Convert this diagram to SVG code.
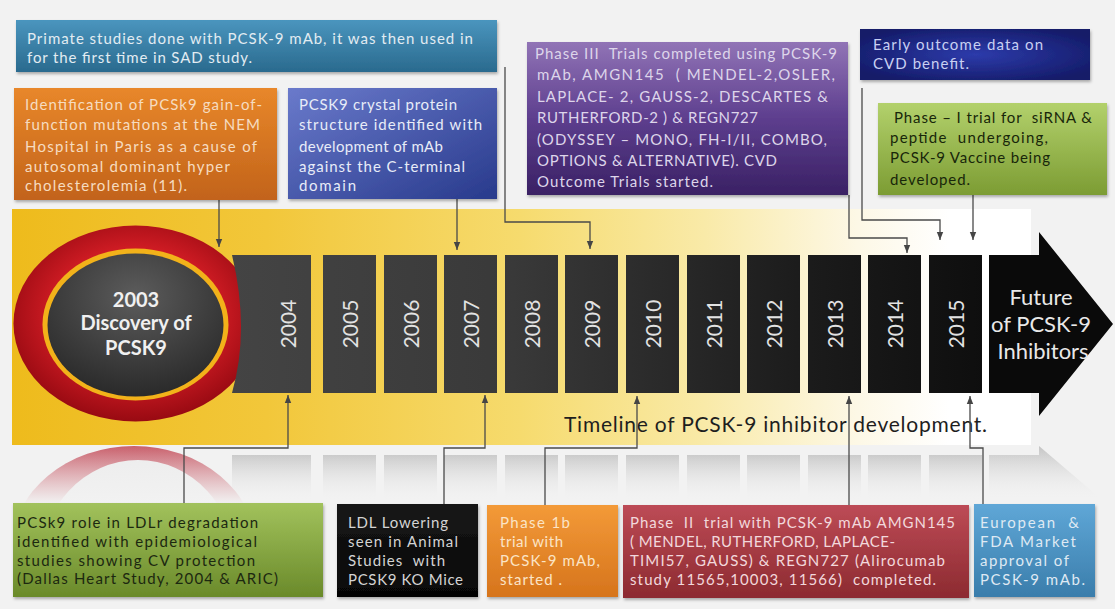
<svg xmlns="http://www.w3.org/2000/svg" width="1115" height="609" viewBox="0 0 1115 609">
<defs>
  <linearGradient id="band" gradientUnits="userSpaceOnUse" x1="12" y1="0" x2="1031" y2="0">
    <stop offset="0" stop-color="#eebb1c"/>
    <stop offset="0.25" stop-color="#f2c73a"/>
    <stop offset="0.5" stop-color="#f6db6e"/>
    <stop offset="0.68" stop-color="#f9eaa8"/>
    <stop offset="0.83" stop-color="#fdf8e6"/>
    <stop offset="0.92" stop-color="#ffffff"/>
  </linearGradient>
  <linearGradient id="yrs" gradientUnits="userSpaceOnUse" x1="230" y1="0" x2="1040" y2="0">
    <stop offset="0" stop-color="#444444"/>
    <stop offset="0.35" stop-color="#393939"/>
    <stop offset="0.7" stop-color="#1c1c1c"/>
    <stop offset="1" stop-color="#0a0a0a"/>
  </linearGradient>
  <radialGradient id="ring" cx="50%" cy="45%" r="55%">
    <stop offset="0.6" stop-color="#d01c24"/>
    <stop offset="1" stop-color="#980a12"/>
  </radialGradient>
  <radialGradient id="core" cx="50%" cy="30%" r="70%">
    <stop offset="0" stop-color="#5c5c5c"/>
    <stop offset="1" stop-color="#2a2a2a"/>
  </radialGradient>
  <linearGradient id="refl" x1="0" y1="0" x2="0" y2="1">
    <stop offset="0" stop-color="#c4c4c4"/>
    <stop offset="1" stop-color="#f2f2f2"/>
  </linearGradient>
  <linearGradient id="fade" x1="0" y1="0" x2="0" y2="1">
    <stop offset="0" stop-color="#f2f2f2" stop-opacity="0"/>
    <stop offset="1" stop-color="#f2f2f2" stop-opacity="1"/>
  </linearGradient>
  <linearGradient id="gPrim" x1="0" y1="0" x2="0" y2="1"><stop offset="0" stop-color="#4a95be"/><stop offset="1" stop-color="#2a6a8e"/></linearGradient>
  <linearGradient id="gOr1" x1="0" y1="0" x2="0" y2="1"><stop offset="0" stop-color="#e8872a"/><stop offset="1" stop-color="#c2631a"/></linearGradient>
  <linearGradient id="gBl1" x1="0" y1="0" x2="1" y2="1"><stop offset="0" stop-color="#6a7acb"/><stop offset="1" stop-color="#283a8c"/></linearGradient>
  <linearGradient id="gPur" x1="0" y1="0" x2="0" y2="1"><stop offset="0" stop-color="#9174b6"/><stop offset="0.5" stop-color="#5d3e8e"/><stop offset="1" stop-color="#3a2164"/></linearGradient>
  <radialGradient id="gDb" cx="50%" cy="50%" r="60%"><stop offset="0" stop-color="#2d3bab"/><stop offset="1" stop-color="#141b68"/></radialGradient>
  <linearGradient id="gGr1" x1="0" y1="0" x2="0" y2="1"><stop offset="0" stop-color="#b3d16c"/><stop offset="1" stop-color="#7c9c33"/></linearGradient>
  <linearGradient id="gGr2" x1="0" y1="0" x2="0" y2="1"><stop offset="0" stop-color="#a2c25c"/><stop offset="1" stop-color="#6a8a2a"/></linearGradient>
  <linearGradient id="gBk" x1="0" y1="0" x2="0" y2="1"><stop offset="0" stop-color="#181818"/><stop offset="1" stop-color="#050505"/></linearGradient>
  <linearGradient id="gOr2" x1="0" y1="0" x2="0" y2="1"><stop offset="0" stop-color="#f39a38"/><stop offset="1" stop-color="#d6741c"/></linearGradient>
  <linearGradient id="gRd" x1="0" y1="0" x2="0" y2="1"><stop offset="0" stop-color="#bd4b56"/><stop offset="1" stop-color="#8c2a30"/></linearGradient>
  <linearGradient id="gBl2" x1="0" y1="0" x2="0" y2="1"><stop offset="0" stop-color="#5fa7d7"/><stop offset="1" stop-color="#3a7dab"/></linearGradient>
  <linearGradient id="pinkRefl" x1="0" y1="0" x2="0" y2="1"><stop offset="0" stop-color="#c9606c"/><stop offset="1" stop-color="#f0e0e2"/></linearGradient>
  <clipPath id="reflClip"><rect x="0" y="446" width="1115" height="58"/></clipPath>
  <marker id="ah" viewBox="0 0 10 10" refX="10" refY="5" markerWidth="8" markerHeight="8" markerUnits="userSpaceOnUse" orient="auto">
    <path d="M0,1 L10,5 L0,9 z" fill="#454545"/>
  </marker>
  <filter id="sh" x="-5%" y="-5%" width="110%" height="115%">
    <feDropShadow dx="1" dy="2" stdDeviation="1.5" flood-color="#000" flood-opacity="0.3"/>
  </filter>
</defs>
<style>
  .t{font-family:Lato,"Liberation Sans",sans-serif;font-size:15px}
  .yr{font-family:Lato,"Liberation Sans",sans-serif;font-size:21px;fill:#e2e2e2;text-anchor:middle;dominant-baseline:central}
  .cn{fill:none;stroke:#4a4a4a;stroke-width:1.3;marker-end:url(#ah)}
  .yb{fill:url(#yrs)}
  .rb{fill:url(#refl)}
</style>

<rect x="0" y="0" width="1115" height="609" fill="#f2f2f2"/>

<g id="timeline-band">
  <rect x="12" y="209" width="1019" height="236" fill="url(#band)"/>
</g>

<g id="reflection" clip-path="url(#reflClip)">
  <rect class="rb" x="232" y="455" width="79" height="45"/>
  <rect class="rb" x="323" y="455" width="53" height="45"/>
  <rect class="rb" x="384" y="455" width="53" height="45"/>
  <rect class="rb" x="444" y="455" width="53" height="45"/>
  <rect class="rb" x="505" y="455" width="53" height="45"/>
  <rect class="rb" x="565" y="455" width="53" height="45"/>
  <rect class="rb" x="626" y="455" width="53" height="45"/>
  <rect class="rb" x="687" y="455" width="53" height="45"/>
  <rect class="rb" x="747" y="455" width="53" height="45"/>
  <rect class="rb" x="808" y="455" width="53" height="45"/>
  <rect class="rb" x="868" y="455" width="53" height="45"/>
  <rect class="rb" x="929" y="455" width="53" height="45"/>
  <polygon class="rb" points="989,455 1039,455 1039,446 1100,498 989,498"/>
  <ellipse cx="134" cy="548" rx="122" ry="102" fill="url(#pinkRefl)"/>
  <ellipse cx="138" cy="566" rx="98" ry="106" fill="#ececec"/>
  <rect x="0" y="446" width="1115" height="58" fill="url(#fade)"/>
</g>

<g id="node-2003">
  <ellipse cx="135.5" cy="323.5" rx="122" ry="98" fill="url(#ring)"/>
  <ellipse cx="135.5" cy="324.5" rx="93" ry="76" fill="#f2b21a"/>
  <ellipse cx="135.5" cy="325" rx="88" ry="71.5" fill="url(#core)"/>
  <g font-family="Lato,'Liberation Sans',sans-serif" font-size="20" font-weight="bold" fill="#f0f0f0" text-anchor="middle">
    <text x="136" y="307">2003</text>
    <text x="136" y="330">Discovery of</text>
    <text x="136" y="355">PCSK9</text>
  </g>
</g>

<g id="years">
  <g id="y2004"><rect class="yb" x="258" y="255" width="53" height="138"/><path class="yb" d="M232,255 H260 V393 H232 Q250,330 232,255 Z"/><text class="yr" transform="translate(287,324) rotate(-90)">2004</text></g>
  <g id="y2005"><rect class="yb" x="323" y="255" width="53" height="138"/><text class="yr" transform="translate(349.5,324) rotate(-90)">2005</text></g>
  <g id="y2006"><rect class="yb" x="384" y="255" width="53" height="138"/><text class="yr" transform="translate(410.5,324) rotate(-90)">2006</text></g>
  <g id="y2007"><rect class="yb" x="444" y="255" width="53" height="138"/><text class="yr" transform="translate(470.5,324) rotate(-90)">2007</text></g>
  <g id="y2008"><rect class="yb" x="505" y="255" width="53" height="138"/><text class="yr" transform="translate(531.5,324) rotate(-90)">2008</text></g>
  <g id="y2009"><rect class="yb" x="565" y="255" width="53" height="138"/><text class="yr" transform="translate(591.5,324) rotate(-90)">2009</text></g>
  <g id="y2010"><rect class="yb" x="626" y="255" width="53" height="138"/><text class="yr" transform="translate(652.5,324) rotate(-90)">2010</text></g>
  <g id="y2011"><rect class="yb" x="687" y="255" width="53" height="138"/><text class="yr" transform="translate(713.5,324) rotate(-90)">2011</text></g>
  <g id="y2012"><rect class="yb" x="747" y="255" width="53" height="138"/><text class="yr" transform="translate(773.5,324) rotate(-90)">2012</text></g>
  <g id="y2013"><rect class="yb" x="808" y="255" width="53" height="138"/><text class="yr" transform="translate(834.5,324) rotate(-90)">2013</text></g>
  <g id="y2014"><rect class="yb" x="868" y="255" width="53" height="138"/><text class="yr" transform="translate(894.5,324) rotate(-90)">2014</text></g>
  <g id="y2015"><rect class="yb" x="929" y="255" width="53" height="138"/><text class="yr" transform="translate(955.5,324) rotate(-90)">2015</text></g>
</g>

<g id="node-future">
  <polygon points="989,255 1039,255 1039,232 1113,324 1039,416 1039,393 989,393" fill="#0a0a0a"/>
  <g font-family="Lato,'Liberation Sans',sans-serif" font-size="22" fill="#e8e8e8" text-anchor="middle">
    <text x="1041" y="305">Future</text>
    <text x="1041" y="332">of PCSK-9</text>
    <text x="1043" y="359">Inhibitors</text>
  </g>
</g>

<text id="caption" x="564" y="432" font-family="Lato,'Liberation Sans',sans-serif" font-size="21" fill="#1e1e1e" textLength="423">Timeline of PCSK-9 inhibitor development.</text>

<g id="connectors">
  <path class="cn" d="M219,200 V247"/>
  <path class="cn" d="M457,199 V250"/>
  <path class="cn" d="M505,67 V222 H590 V249"/>
  <path class="cn" d="M849,195 V238 H907 V253"/>
  <path class="cn" d="M862,88 V220 H940 V240"/>
  <path class="cn" d="M973,195 V240"/>
  <path class="cn" d="M184,503 V448 H288 V395"/>
  <path class="cn" d="M444,504 V448 H485 V395"/>
  <path class="cn" d="M545,505 V448 H637 V396"/>
  <path class="cn" d="M849,505 V396"/>
  <path class="cn" d="M983,504 V448 H970 V396"/>
</g>

<g id="n-primate">
  <rect x="16" y="20" width="481" height="52" fill="url(#gPrim)" filter="url(#sh)"/>
  <g class="t" fill="#e2ecf2">
    <text x="27" y="44" textLength="446">Primate studies done with PCSK-9 mAb, it was then used in</text>
    <text x="27" y="63" textLength="225">for the first time in SAD study.</text>
  </g>
</g>

<g id="n-gof">
  <rect x="14" y="88" width="263" height="112" fill="url(#gOr1)" filter="url(#sh)"/>
  <g class="t" fill="#f6dcc0">
    <text x="25" y="110" textLength="237">Identification of PCSk9 gain-of-</text>
    <text x="25" y="130" textLength="235">function mutations at the NEM</text>
    <text x="25" y="152" textLength="232">Hospital in Paris as a cause of</text>
    <text x="25" y="172" textLength="205">autosomal dominant hyper</text>
    <text x="25" y="191" textLength="162">cholesterolemia (11).</text>
  </g>
</g>

<g id="n-crystal">
  <rect x="288" y="88" width="209" height="111" fill="url(#gBl1)" filter="url(#sh)"/>
  <g class="t" fill="#e8ecf8">
    <text x="299" y="110" textLength="158">PCSK9 crystal protein</text>
    <text x="299" y="130" textLength="183">structure identified with</text>
    <text x="299" y="152" textLength="144">development of mAb</text>
    <text x="299" y="172" textLength="166">against the C-terminal</text>
    <text x="299" y="191" textLength="57">domain</text>
  </g>
</g>

<g id="n-phase3">
  <rect x="527" y="42" width="321" height="153" fill="url(#gPur)" filter="url(#sh)"/>
  <g class="t" fill="#ddd5ea">
    <text x="535" y="59" textLength="302" xml:space="preserve">Phase III  Trials completed using PCSK-9</text>
    <text x="537" y="80" textLength="298" xml:space="preserve">mAb, AMGN145  ( MENDEL-2,OSLER,</text>
    <text x="537" y="102" textLength="291">LAPLACE- 2, GAUSS-2, DESCARTES &amp;</text>
    <text x="537" y="123" textLength="221">RUTHERFORD-2 ) &amp; REGN727</text>
    <text x="537" y="145" textLength="290">(ODYSSEY – MONO, FH-I/II, COMBO,</text>
    <text x="537" y="166" textLength="240">OPTIONS &amp; ALTERNATIVE). CVD</text>
    <text x="537" y="187" textLength="176">Outcome Trials started.</text>
  </g>
</g>

<g id="n-early">
  <rect x="860" y="29" width="230" height="51" fill="url(#gDb)" filter="url(#sh)"/>
  <g class="t" fill="#c9d0f2">
    <text x="873" y="50" textLength="170">Early outcome data on</text>
    <text x="873" y="69" textLength="96">CVD benefit.</text>
  </g>
</g>

<g id="n-sirna">
  <rect x="878" y="103" width="229" height="92" fill="url(#gGr1)" filter="url(#sh)"/>
  <g class="t" fill="#18260a">
    <text x="894" y="123" textLength="198" xml:space="preserve">Phase – I trial for  siRNA &amp;</text>
    <text x="890" y="143" textLength="158" xml:space="preserve">peptide  undergoing,</text>
    <text x="890" y="163" textLength="160">PCSK-9 Vaccine being</text>
    <text x="890" y="185" textLength="80">developed.</text>
  </g>
</g>

<g id="n-ldlr">
  <rect x="13" y="503" width="310" height="94" fill="url(#gGr2)" filter="url(#sh)"/>
  <g class="t" fill="#1c2810">
    <text x="17" y="528" textLength="241">PCSk9 role in LDLr degradation</text>
    <text x="17" y="547" textLength="240">identified with epidemiological</text>
    <text x="17" y="566" textLength="238">studies showing CV protection</text>
    <text x="17" y="584" textLength="261">(Dallas Heart Study, 2004 &amp; ARIC)</text>
  </g>
</g>

<g id="n-animal">
  <rect x="337" y="504" width="141" height="93" fill="url(#gBk)" filter="url(#sh)"/>
  <g class="t" fill="#d4d4d4">
    <text x="348" y="528" textLength="100">LDL Lowering</text>
    <text x="348" y="547" textLength="110">seen in Animal</text>
    <text x="348" y="566" textLength="97" xml:space="preserve">Studies  with</text>
    <text x="348" y="585" textLength="115">PCSK9 KO Mice</text>
  </g>
</g>

<g id="n-phase1b">
  <rect x="487" y="505" width="131" height="92" fill="url(#gOr2)" filter="url(#sh)"/>
  <g class="t" fill="#fbe4c6">
    <text x="500" y="528" textLength="70">Phase 1b</text>
    <text x="500" y="547" textLength="63">trial with</text>
    <text x="500" y="566" textLength="100">PCSK-9 mAb,</text>
    <text x="500" y="585" textLength="62">started .</text>
  </g>
</g>

<g id="n-phase2">
  <rect x="623" y="505" width="346" height="93" fill="url(#gRd)" filter="url(#sh)"/>
  <g class="t" fill="#f2d8dc">
    <text x="630" y="528" textLength="325" xml:space="preserve">Phase  II  trial with PCSK-9 mAb AMGN145</text>
    <text x="630" y="547" textLength="265">( MENDEL, RUTHERFORD, LAPLACE-</text>
    <text x="630" y="566" textLength="315">TIMI57, GAUSS) &amp; REGN727 (Alirocumab</text>
    <text x="630" y="585" textLength="306" xml:space="preserve">study 11565,10003, 11566)  completed.</text>
  </g>
</g>

<g id="n-approval">
  <rect x="974" y="504" width="121" height="93" fill="url(#gBl2)" filter="url(#sh)"/>
  <g class="t" fill="#dfe9f3">
    <text x="980" y="528" textLength="99" xml:space="preserve">European  &amp;</text>
    <text x="980" y="547" textLength="96">FDA Market</text>
    <text x="980" y="566" textLength="89">approval of</text>
    <text x="980" y="585" textLength="105">PCSK-9 mAb.</text>
  </g>
</g>
</svg>
